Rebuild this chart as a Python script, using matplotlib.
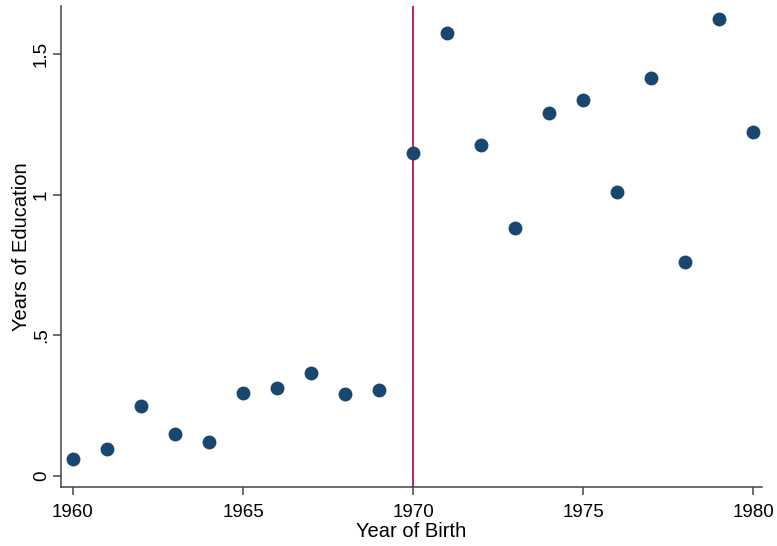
import matplotlib.pyplot as plt

plt.rcParams['font.family'] = ['Liberation Sans', 'DejaVu Sans']

years = list(range(1960, 1981))
education = [0.059, 0.095, 0.248, 0.148, 0.12, 0.294, 0.312, 0.365, 0.29, 0.305,
             1.148, 1.575, 1.176, 0.881, 1.29, 1.337, 1.009, 1.415, 0.76, 1.625, 1.222]
x_ticks = [1960, 1965, 1970, 1975, 1980]
y_ticks = [0, 0.5, 1, 1.5]
y_tick_labels = ['0', '.5', '1', '1.5']
cutoff = 1970

fig = plt.figure(figsize=(7.77, 5.46), dpi=100)
ax = fig.add_axes([0.0785, 0.108, 0.9025, 0.881])

ax.axvline(cutoff, color='#b5163c', linewidth=1.3, zorder=1)
ax.scatter(years, education, s=100, color='#1a476f', zorder=2, linewidths=0)

ax.set_xlim(1959.65, 1980.26)
ax.set_ylim(-0.04, 1.671)
ax.set_xticks(x_ticks)
ax.set_yticks(y_ticks)
ax.set_yticklabels(y_tick_labels, rotation=90, va='center')

for side in ['top', 'right']:
    ax.spines[side].set_visible(False)
for side in ['left', 'bottom']:
    ax.spines[side].set_color('#444444')
    ax.spines[side].set_linewidth(1.1)
ax.tick_params(axis='both', length=6, width=1.1, color='#444444', labelsize=13.5)
ax.tick_params(axis='x', pad=6)
ax.tick_params(axis='y', pad=2)

ax.set_xlabel('Year of Birth', fontsize=14.5, labelpad=1)
ax.set_ylabel('Years of Education', fontsize=14.5, labelpad=1)

fig.savefig('out.png', dpi=100)
